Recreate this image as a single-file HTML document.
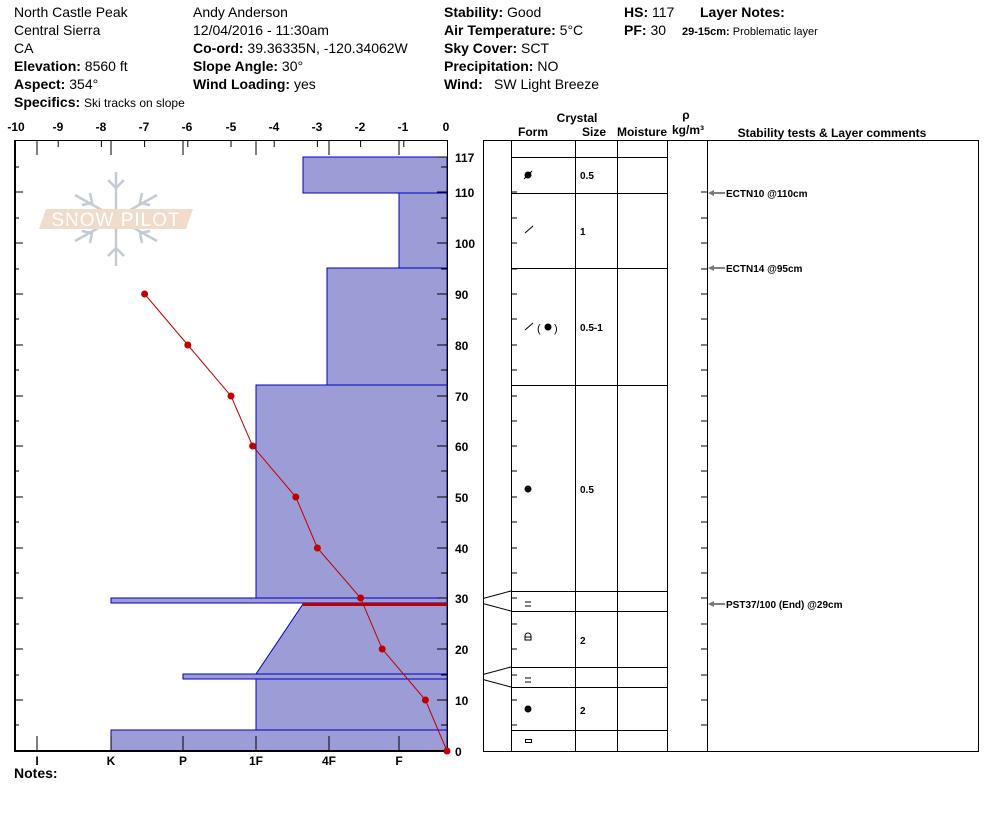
<!DOCTYPE html>
<html><head><meta charset="utf-8"><style>
body{margin:0;background:#fff;}
svg{display:block;font-family:"Liberation Sans",Arial,sans-serif;}
</style></head><body>
<svg width="994" height="840" viewBox="0 0 994 840" xmlns="http://www.w3.org/2000/svg">
<g font-size="14" fill="#000">
<text x="14" y="17">North Castle Peak</text>
<text x="14" y="35">Central Sierra</text>
<text x="14" y="53">CA</text>
<text x="14" y="71"><tspan font-weight="bold">Elevation:</tspan> 8560 ft</text>
<text x="14" y="89"><tspan font-weight="bold">Aspect:</tspan> 354°</text>
<text x="14" y="107"><tspan font-weight="bold">Specifics:</tspan> <tspan font-size="12">Ski tracks on slope</tspan></text>
<text x="193" y="17">Andy Anderson</text>
<text x="193" y="35">12/04/2016 - 11:30am</text>
<text x="193" y="53"><tspan font-weight="bold">Co-ord:</tspan> 39.36335N, -120.34062W</text>
<text x="193" y="71"><tspan font-weight="bold">Slope Angle:</tspan> 30°</text>
<text x="193" y="89"><tspan font-weight="bold">Wind Loading:</tspan> yes</text>
<text x="444" y="17"><tspan font-weight="bold">Stability:</tspan> Good</text>
<text x="444" y="35"><tspan font-weight="bold">Air Temperature:</tspan> 5°C</text>
<text x="444" y="53"><tspan font-weight="bold">Sky Cover:</tspan> SCT</text>
<text x="444" y="71"><tspan font-weight="bold">Precipitation:</tspan> NO</text>
<text x="444" y="89"><tspan font-weight="bold">Wind:</tspan><tspan x="494">SW Light Breeze</tspan></text>
<text x="624" y="17"><tspan font-weight="bold">HS:</tspan> 117</text>
<text x="624" y="35"><tspan font-weight="bold">PF:</tspan> 30</text>
<text x="700" y="17" font-weight="bold">Layer Notes:</text>
<text x="682" y="35" font-size="11"><tspan font-weight="bold">29-15cm:</tspan> Problematic layer</text>
<text x="14" y="778" font-weight="bold">Notes:</text>
</g>
<!-- logo -->
<g stroke="#c3ccd4" stroke-width="2.5" fill="none">
<line x1="116" y1="172" x2="116" y2="266"/><line x1="75" y1="195" x2="157" y2="241"/><line x1="75" y1="241" x2="157" y2="195"/>
<path d="M108 180 L116 188 L124 180 M108 256 L116 248 L124 256 M82 205 L92 203 L90 193 M150 231 L140 233 L142 243 M82 231 L92 233 L90 243 M150 205 L140 203 L142 193"/>
</g>
<polygon points="46,209 193,209 186,229 39,229" fill="#f1dccb"/>
<text x="116" y="226" text-anchor="middle" font-size="19" fill="#fff" letter-spacing="1">SNOW PILOT</text>
<!-- hardness bars -->
<g fill="#9c9cd6" stroke="#0000c0" stroke-width="1">
<rect x="303" y="157" width="144" height="36"/>
<rect x="399" y="193" width="48" height="75"/>
<rect x="327" y="268" width="120" height="117"/>
<rect x="256" y="385" width="191" height="213"/>
<rect x="111" y="598" width="336" height="5"/>
<polygon points="303,604 447,604 447,674 256,674"/>
<rect x="183" y="674" width="264" height="5"/>
<rect x="256" y="679" width="191" height="51"/>
<rect x="111" y="730" width="336" height="21"/>
</g>
<line x1="303" y1="604.5" x2="447" y2="604.5" stroke="#c00000" stroke-width="3"/>
<!-- left axes -->
<g stroke="#000" stroke-width="1" fill="none">
<line x1="15" y1="140.5" x2="447" y2="140.5"/>
<line x1="15" y1="140" x2="15" y2="752" stroke-width="2"/>
<line x1="447.5" y1="140" x2="447.5" y2="752"/>
<line x1="14" y1="751" x2="447" y2="751" stroke-width="2"/>
<path d="M58.2 140v7M101.4 140v7M144.6 140v7M187.8 140v7M231 140v7M274.2 140v7M317.4 140v7M360.6 140v7M403.8 140v7"/>
<path d="M37 140v15M111 140v15M183 140v15M256 140v15M329 140v15M399 140v15"/>
<path d="M37 751v-15M111 751v-15M183 751v-15M256 751v-15M329 751v-15M399 751v-15"/>
<path d="M437 700h10M437 649h10M437 598h10M437 548h10M437 497h10M437 446h10M437 396h10M437 345h10M437 294h10M437 243h10M437 192h10M437 157h10"/>
<path d="M441 725h6M441 675h6M441 624h6M441 573h6M441 522h6M441 471h6M441 421h6M441 370h6M441 319h6M441 269h6M441 218h6M441 167h6"/>
<path d="M15 700h8M15 649h8M15 598h8M15 548h8M15 497h8M15 446h8M15 396h8M15 345h8M15 294h8M15 243h8M15 192h8"/>
<path d="M15 725h4M15 675h4M15 624h4M15 573h4M15 522h4M15 471h4M15 421h4M15 370h4M15 319h4M15 269h4M15 218h4M15 167h4"/>
</g>
<g font-size="12" font-weight="bold" text-anchor="middle">
<text x="16" y="131">-10</text><text x="58" y="131">-9</text><text x="101" y="131">-8</text><text x="144" y="131">-7</text><text x="187" y="131">-6</text><text x="231" y="131">-5</text><text x="274" y="131">-4</text><text x="317" y="131">-3</text><text x="360" y="131">-2</text><text x="403" y="131">-1</text><text x="446" y="131">0</text>
<text x="37" y="765">I</text><text x="111" y="765">K</text><text x="183" y="765">P</text><text x="256" y="765">1F</text><text x="329" y="765">4F</text><text x="399" y="765">F</text>
</g>
<g font-size="12" font-weight="bold">
<text x="455" y="756">0</text><text x="455" y="705">10</text><text x="455" y="654">20</text><text x="455" y="603">30</text><text x="455" y="553">40</text><text x="455" y="502">50</text><text x="455" y="451">60</text><text x="455" y="401">70</text><text x="455" y="350">80</text><text x="455" y="299">90</text><text x="455" y="248">100</text><text x="455" y="197">110</text><text x="455" y="162">117</text>
</g>
<!-- temperature -->
<polyline points="144.6,294 187.8,345 231,396 252.6,446 295.8,497 317.4,548 360.6,598 382.2,649 425.4,700 447,751" fill="none" stroke="#c00000" stroke-width="1"/>
<g fill="#c00000"><circle cx="144.6" cy="294" r="3.5"/><circle cx="187.8" cy="345" r="3.5"/><circle cx="231" cy="396" r="3.5"/><circle cx="252.6" cy="446" r="3.5"/><circle cx="295.8" cy="497" r="3.5"/><circle cx="317.4" cy="548" r="3.5"/><circle cx="360.6" cy="598" r="3.5"/><circle cx="382.2" cy="649" r="3.5"/><circle cx="425.4" cy="700" r="3.5"/><circle cx="447" cy="751" r="3.5"/></g>
<!-- right table -->
<g font-size="12" font-weight="bold" text-anchor="middle">
<text x="577" y="122">Crystal</text>
<text x="533" y="136">Form</text><text x="594" y="136">Size</text><text x="642" y="136">Moisture</text>
<text x="686" y="119">ρ</text><text x="688" y="134">kg/m³</text>
<text x="832" y="137">Stability tests &amp; Layer comments</text>
</g>
<g stroke="#000" stroke-width="1" fill="none">
<rect x="483.5" y="140.5" width="495" height="611"/>
<path d="M511.5 140v611M575.5 140v611M617.5 140v611M667.5 140v611M707.5 140v611"/>
<path d="M511 157.5h156M511 193.5h156M511 268.5h156M511 385.5h156M511 591.5h156M511 611.5h156M511 667.5h156M511 687.5h156M511 730.5h156"/>
<path d="M483 598.5L511 591M483 603.5L511 611M483 674.5L511 667M483 679.5L511 687"/>
<path d="M511 700h6M511 649h6M511 598h6M511 548h6M511 497h6M511 446h6M511 396h6M511 345h6M511 294h6M511 243h6M511 192h6M511 725h6M511 675h6M511 624h6M511 573h6M511 522h6M511 471h6M511 421h6M511 370h6M511 319h6M511 269h6M511 218h6"/>
<path d="M701 700h6M701 649h6M701 598h6M701 548h6M701 497h6M701 446h6M701 396h6M701 345h6M701 294h6M701 243h6M701 192h6M701 725h6M701 675h6M701 624h6M701 573h6M701 522h6M701 471h6M701 421h6M701 370h6M701 319h6M701 269h6M701 218h6"/>
<path d="M711 193h14M711 268h14M711 604h14" />
<path d="M525 233L533 226M525 330L533 323M525 602h6M525 606h6M525 678h6M525 682h6"/>
<rect x="525.5" y="739.5" width="6" height="3"/>
<path d="M525 640v-4a3 3 0 0 1 6 0v4zM525 637h6"/>
<text x="537" y="332" font-size="11" stroke="none" fill="#000">(</text>
<text x="554" y="332" font-size="11" stroke="none" fill="#000">)</text>
</g>
<g fill="#777"><path d="M708 193l6-3v6zM708 268l6-3v6zM708 604l6-3v6z"/></g>
<g fill="#000"><circle cx="528" cy="175" r="3.5"/><line x1="524" y1="179" x2="532" y2="171" stroke="#000"/><circle cx="548" cy="327" r="3.5"/><circle cx="528" cy="489" r="3.5"/><circle cx="528" cy="709" r="3.5"/></g>
<g font-size="10" font-weight="bold">
<text x="580" y="179">0.5</text><text x="580" y="235">1</text><text x="580" y="331">0.5-1</text><text x="580" y="493">0.5</text><text x="580" y="644">2</text><text x="580" y="714">2</text>
<text x="726" y="197">ECTN10 @110cm</text><text x="726" y="272">ECTN14 @95cm</text><text x="726" y="608">PST37/100 (End) @29cm</text>
</g>
</svg>
</body></html>
